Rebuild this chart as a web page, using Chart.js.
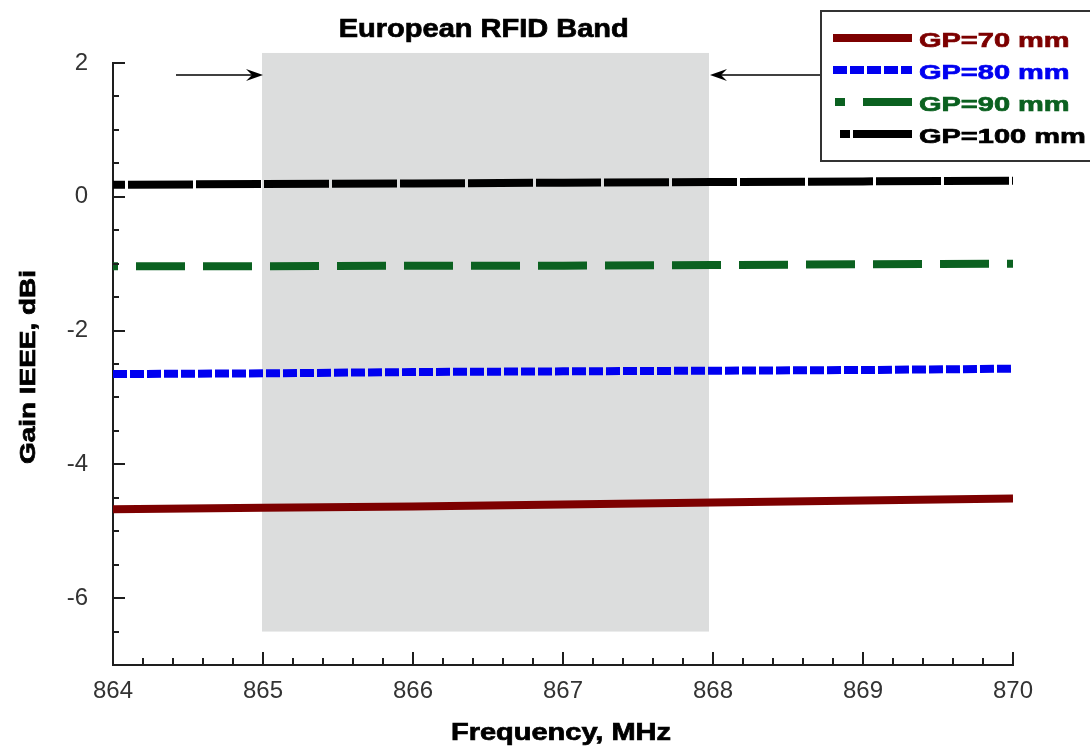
<!DOCTYPE html>
<html>
<head>
<meta charset="utf-8">
<title>Gain vs Frequency</title>
<script src="https://cdn.jsdelivr.net/npm/chart.js@4/dist/chart.umd.min.js"></script>
<style>
  html, body { margin: 0; padding: 0; background: #ffffff; }
  #wrap { width: 1090px; height: 749px; }
</style>
</head>
<body>
<div id="wrap"><canvas id="gainChart" width="1090" height="749"></canvas></div>
<script>
// Measured gain (dBi) versus frequency (MHz) for four ground-plane sizes
const frequencies = [864, 865, 866, 867, 868, 869, 870];
const gainGP70  = [-4.67, -4.65, -4.63, -4.60, -4.57, -4.54, -4.51];
const gainGP80  = [-2.65, -2.64, -2.62, -2.61, -2.60, -2.59, -2.57];
const gainGP90  = [-1.04, -1.04, -1.03, -1.03, -1.02, -1.01, -1.00];
const gainGP100 = [0.18, 0.19, 0.20, 0.21, 0.22, 0.23, 0.24];
const seriesLabels = ['GP=70 mm', 'GP=80 mm', 'GP=90 mm', 'GP=100 mm'];

// Axis extents and tick spacing
const xRange = [864, 870];
const yRange = [-7, 2];
const xStep = 0.2;
const yStep = 0.5;

// European RFID band (MHz) and the gain span of its shaded box
const bandFreq = [865, 867.97];
const bandGain = [-6.5, 2.15];
const arrowGain = 1.82;
const leftArrowFreq = [864.42, 865];
const rightArrowFreq = [869.62, 867.98];

const chartTitle = 'European RFID Band';
const xTitle = 'Frequency, MHz';
const yTitle = 'Gain IEEE, dBi';

const seriesStyles = [
  { color: '#7d0000', dash: [],       offset: 0 },
  { color: '#0000f0', dash: [14, 3],  offset: 0 },
  { color: '#0b6120', dash: [49, 18], offset: 44 },
  { color: '#000000', dash: [65, 3],  offset: 53 }
];

const AXIS_COLOR = '#1e1e1e';
const BOLD = '"Liberation Sans", Arial, sans-serif';

function pairs(ys) { return frequencies.map((f, i) => ({ x: f, y: ys[i] })); }
const seriesValues = [gainGP70, gainGP80, gainGP90, gainGP100];

const datasets = seriesValues.map((vals, i) => ({
  label: seriesLabels[i],
  data: pairs(vals),
  borderColor: seriesStyles[i].color,
  backgroundColor: seriesStyles[i].color,
  borderWidth: 8,
  borderDash: seriesStyles[i].dash,
  borderDashOffset: seriesStyles[i].offset,
  borderCapStyle: 'butt',
  pointRadius: 0,
  pointHoverRadius: 0,
  tension: 0,
  fill: false
}));

function isInt(v) { return Math.abs(v - Math.round(v)) < 1e-6; }

// Bold, horizontally widened caption text with a light outline for weight
function stretchedText(ctx, text, x, y, font, sx, align, color, rotate) {
  ctx.save();
  ctx.translate(x, y);
  if (rotate) ctx.rotate(-Math.PI / 2);
  ctx.scale(sx, 1);
  ctx.font = font;
  ctx.fillStyle = color;
  ctx.strokeStyle = color;
  ctx.lineWidth = 0.7;
  ctx.textAlign = align;
  ctx.textBaseline = 'alphabetic';
  ctx.fillText(text, 0, 0);
  ctx.strokeText(text, 0, 0);
  ctx.restore();
}

function arrow(ctx, x0, x1, y) {
  const dir = Math.sign(x1 - x0);
  ctx.save();
  ctx.strokeStyle = '#000';
  ctx.fillStyle = '#000';
  ctx.lineWidth = 1.6;
  ctx.beginPath();
  ctx.moveTo(x0, y);
  ctx.lineTo(x1 - dir * 8, y);
  ctx.stroke();
  ctx.beginPath();
  ctx.moveTo(x1, y);
  ctx.lineTo(x1 - dir * 17, y - 6);
  ctx.lineTo(x1 - dir * 11, y);
  ctx.lineTo(x1 - dir * 17, y + 6);
  ctx.closePath();
  ctx.fill();
  ctx.restore();
}

const decorations = {
  id: 'decorations',
  beforeDatasetsDraw(chart) {
    const { ctx, scales: { x, y } } = chart;
    const left = Math.round(x.getPixelForValue(bandFreq[0])) - 1;
    const right = Math.round(x.getPixelForValue(bandFreq[1]));
    const top = y.getPixelForValue(bandGain[1]);
    const bottom = y.getPixelForValue(bandGain[0]);
    ctx.save();
    ctx.fillStyle = '#dcdddd';
    ctx.fillRect(left, top, right - left, bottom - top);
    ctx.restore();
  },
  afterDraw(chart) {
    const { ctx, chartArea, scales: { x, y } } = chart;

    // inward tick marks, longer at the labelled values
    ctx.save();
    ctx.strokeStyle = AXIS_COLOR;
    ctx.lineWidth = 2;
    ctx.beginPath();
    x.ticks.forEach(t => {
      const px = Math.round(x.getPixelForValue(t.value));
      const len = isInt(t.value) ? 13 : 7;
      if (t.value <= xRange[0] + 1e-6) return;
      ctx.moveTo(px, chartArea.bottom);
      ctx.lineTo(px, chartArea.bottom - len);
    });
    y.ticks.forEach(t => {
      const py = Math.round(y.getPixelForValue(t.value));
      const major = isInt(t.value) && Math.round(t.value) % 2 === 0;
      const len = major ? 12 : 6;
      if (t.value <= yRange[0] + 1e-6) return;
      ctx.moveTo(chartArea.left, py);
      ctx.lineTo(chartArea.left + len, py);
    });
    ctx.stroke();
    ctx.restore();

    // band arrows
    const ay = y.getPixelForValue(arrowGain);
    arrow(ctx, x.getPixelForValue(leftArrowFreq[0]), x.getPixelForValue(leftArrowFreq[1]), ay);
    arrow(ctx, x.getPixelForValue(rightArrowFreq[0]), x.getPixelForValue(rightArrowFreq[1]), ay);

    // titles
    const bandCenter = (x.getPixelForValue(bandFreq[0]) + x.getPixelForValue(bandFreq[1])) / 2;
    stretchedText(ctx, chartTitle, bandCenter - 2, 37, 'bold 25px ' + BOLD, 1.16, 'center', '#000');
    stretchedText(ctx, xTitle, (chartArea.left + chartArea.right) / 2 - 2, 740, 'bold 23px ' + BOLD, 1.26, 'center', '#000');
    stretchedText(ctx, yTitle, 35, (chartArea.top + chartArea.bottom) / 2 + 3, 'bold 22px ' + BOLD, 1.27, 'center', '#000', true);

    // legend box
    ctx.save();
    ctx.fillStyle = '#ffffff';
    ctx.fillRect(821, 11, 280, 150);
    ctx.strokeStyle = '#333333';
    ctx.lineWidth = 2;
    ctx.strokeRect(821, 11, 280, 150);
    ctx.restore();

    const sampleStart = [833, 833, 835, 840];
    const sampleOffset = [0, 0, 39, 55];
    chart.data.datasets.forEach((ds, i) => {
      const base = 47 + i * 32;
      const ly = base - 9;
      ctx.save();
      ctx.strokeStyle = ds.borderColor;
      ctx.lineWidth = 8;
      ctx.lineCap = 'butt';
      ctx.setLineDash(ds.borderDash);
      ctx.lineDashOffset = sampleOffset[i];
      ctx.beginPath();
      ctx.moveTo(sampleStart[i], ly);
      ctx.lineTo(912, ly);
      ctx.stroke();
      ctx.restore();
      stretchedText(ctx, ds.label, 919, base, 'bold 21px ' + BOLD, 1.38, 'left', ds.borderColor);
    });
  }
};

new Chart(document.getElementById('gainChart'), {
  type: 'line',
  data: { datasets },
  plugins: [decorations],
  options: {
    responsive: false,
    animation: false,
    devicePixelRatio: 1,
    layout: { padding: { left: 0, top: 63, right: 77, bottom: 0 } },
    plugins: {
      legend: { display: false },
      title: { display: false },
      tooltip: { enabled: false }
    },
    scales: {
      x: {
        type: 'linear',
        min: xRange[0],
        max: xRange[1],
        afterFit(scale) { scale.height = 84; },
        grid: { display: false, drawTicks: false },
        border: { display: true, color: AXIS_COLOR, width: 2 },
        ticks: {
          stepSize: xStep,
          autoSkip: false,
          maxRotation: 0,
          padding: 12,
          color: '#333333',
          font: { family: '"Liberation Sans", Arial, sans-serif', size: 24 },
          callback: v => (isInt(v) ? String(Math.round(v)) : '')
        }
      },
      y: {
        type: 'linear',
        min: yRange[0],
        max: yRange[1],
        afterFit(scale) { scale.width = 113; },
        grid: { display: false, drawTicks: false },
        border: { display: true, color: AXIS_COLOR, width: 2 },
        ticks: {
          stepSize: yStep,
          autoSkip: false,
          padding: 25,
          color: '#333333',
          font: { family: '"Liberation Sans", Arial, sans-serif', size: 24 },
          callback: v => (isInt(v) && Math.round(v) % 2 === 0 ? String(Math.round(v)) : '')
        }
      }
    }
  }
});
</script>
</body>
</html>
